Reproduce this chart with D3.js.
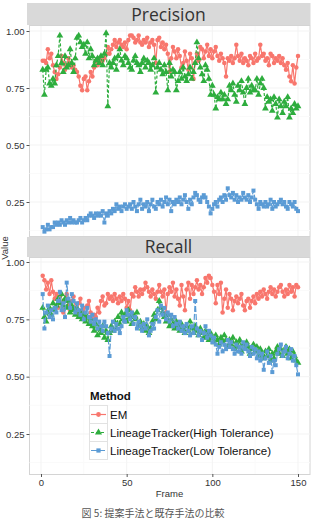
<!DOCTYPE html>
<html>
<head>
<meta charset="utf-8">
<script src="https://cdn.jsdelivr.net/npm/d3@7"></script>
<style>
  body { margin: 0; background: #fff; }
  svg { display: block; }
</style>
</head>
<body>
<svg id="chart" width="314" height="521"></svg>
<script>
// frame numbers
var frames = d3.range(1, 151);

var yTicks = [0.25, 0.5, 0.75, 1.0];
var xTicks = [0, 50, 100, 150];
var methods = ["EM", "LineageTracker(High Tolerance)", "LineageTracker(Low Tolerance)"];

var precisionEM = [
  0.87, 0.87, 0.86, 0.92, 0.88, 0.90, 0.85, 0.82, 0.79, 0.81,
  0.84, 0.89, 0.86, 0.83, 0.85, 0.88, 0.86, 0.84, 0.85, 0.83,
  0.82, 0.80, 0.76, 0.74, 0.79, 0.80, 0.74, 0.78, 0.82, 0.80,
  0.84, 0.87, 0.85, 0.88, 0.86, 0.87, 0.88, 0.90, 0.93, 0.90,
  0.92, 0.94, 0.96, 0.93, 0.95, 0.96, 0.94, 0.93, 0.95, 0.92,
  0.96, 0.98, 0.98, 0.97, 0.95, 0.96, 0.98, 0.95, 0.94, 0.96,
  0.95, 0.97, 0.93, 0.95, 0.96, 0.94, 0.86, 0.96, 0.97, 0.93,
  0.95, 0.92, 0.94, 0.90, 0.82, 0.88, 0.93, 0.91, 0.88, 0.92,
  0.89, 0.84, 0.86, 0.91, 0.87, 0.83, 0.90, 0.88, 0.79, 0.86,
  0.90, 0.87, 0.93, 0.92, 0.88, 0.91, 0.94, 0.89, 0.92, 0.88,
  0.91, 0.93, 0.89, 0.87, 0.90, 0.88, 0.86, 0.80, 0.88, 0.87,
  0.89, 0.86, 0.88, 0.94, 0.89, 0.87, 0.90, 0.86, 0.88, 0.87,
  0.85, 0.89, 0.88, 0.86, 0.90, 0.87, 0.88, 0.94, 0.89, 0.90,
  0.87, 0.88, 0.85, 0.90, 0.89, 0.86, 0.88, 0.87, 0.89, 0.86,
  0.88, 0.85, 0.83, 0.86, 0.80, 0.78, 0.85, 0.77, 0.84, 0.89
];
var precisionHigh = [
  0.83, 0.72, 0.83, 0.84, 0.77, 0.76, 0.79, 0.77, 0.85, 0.89,
  0.98, 0.86, 0.82, 0.89, 0.84, 0.85, 0.92, 0.86, 0.82, 0.88,
  0.97, 0.98, 0.95, 0.93, 0.94, 0.90, 0.95, 0.88, 0.92, 0.89,
  0.85, 0.87, 0.88, 0.86, 0.89, 0.85, 0.90, 0.99, 0.67, 0.86,
  0.84, 0.86, 0.88, 0.83, 0.89, 0.92, 0.87, 0.85, 0.89, 0.88,
  0.86, 0.84, 0.83, 0.87, 0.89, 0.86, 0.85, 0.82, 0.86, 0.88,
  0.84, 0.87, 0.86, 0.83, 0.85, 0.88, 0.73, 0.84, 0.86, 0.83,
  0.81, 0.85, 0.82, 0.74, 0.86, 0.80, 0.83, 0.82, 0.74, 0.78,
  0.82, 0.79, 0.84, 0.80, 0.78, 0.81, 0.84, 0.79, 0.82, 0.86,
  0.95, 0.88, 0.84, 0.81, 0.78, 0.85, 0.83, 0.79, 0.72, 0.76,
  0.72, 0.66, 0.71, 0.70, 0.73, 0.70, 0.72, 0.68, 0.70, 0.76,
  0.74, 0.77, 0.72, 0.69, 0.76, 0.74, 0.78, 0.73, 0.68, 0.75,
  0.79, 0.73, 0.76, 0.74, 0.74, 0.79, 0.72, 0.77, 0.79, 0.75,
  0.66, 0.71, 0.69, 0.70, 0.65, 0.71, 0.68, 0.62, 0.70, 0.67,
  0.64, 0.69, 0.67, 0.71, 0.62, 0.66, 0.64, 0.68, 0.66, 0.67
];
var precisionLow = [
  0.14, 0.12, 0.13, 0.15, 0.13, 0.14, 0.14, 0.16, 0.15, 0.16,
  0.15, 0.17, 0.16, 0.15, 0.17, 0.16, 0.18, 0.16, 0.17, 0.16,
  0.16, 0.17, 0.18, 0.16, 0.17, 0.18, 0.17, 0.19, 0.20, 0.19,
  0.18, 0.20, 0.19, 0.20, 0.19, 0.21, 0.16, 0.20, 0.19, 0.21,
  0.20, 0.22, 0.21, 0.24, 0.22, 0.23, 0.21, 0.23, 0.24, 0.22,
  0.23, 0.24, 0.22, 0.25, 0.23, 0.21, 0.24, 0.26, 0.22, 0.24,
  0.23, 0.25, 0.21, 0.24, 0.26, 0.23, 0.22, 0.25, 0.24, 0.26,
  0.23, 0.25, 0.27, 0.24, 0.26, 0.21, 0.25, 0.24, 0.26, 0.25,
  0.27, 0.24, 0.26, 0.28, 0.25, 0.22, 0.26, 0.24, 0.27, 0.29,
  0.28, 0.26, 0.25, 0.27, 0.28, 0.27, 0.25, 0.23, 0.20, 0.22,
  0.24, 0.25, 0.23, 0.26, 0.27, 0.25, 0.28, 0.26, 0.31, 0.28,
  0.27, 0.29, 0.26, 0.28, 0.25, 0.27, 0.26, 0.29, 0.27, 0.26,
  0.28, 0.25, 0.27, 0.30, 0.26, 0.24, 0.22, 0.25, 0.24, 0.23,
  0.25, 0.23, 0.24, 0.26, 0.22, 0.25, 0.23, 0.24, 0.25, 0.26,
  0.24, 0.25, 0.23, 0.22, 0.25, 0.24, 0.23, 0.25, 0.22, 0.21
];
var recallEM = [
  0.94, 0.92, 0.88, 0.91, 0.86, 0.92, 0.87, 0.84, 0.86, 0.80,
  0.85, 0.82, 0.78, 0.83, 0.86, 0.81, 0.79, 0.83, 0.85, 0.80,
  0.78, 0.82, 0.84, 0.79, 0.80, 0.76, 0.81, 0.83, 0.78, 0.75,
  0.77, 0.76, 0.80, 0.78, 0.83, 0.85, 0.81, 0.82, 0.86, 0.84,
  0.85, 0.83, 0.86, 0.84, 0.82, 0.85, 0.83, 0.86, 0.84, 0.80,
  0.83, 0.79, 0.86, 0.85, 0.89, 0.87, 0.85, 0.88, 0.86, 0.88,
  0.91, 0.89, 0.87, 0.85, 0.88, 0.86, 0.84, 0.87, 0.90, 0.87,
  0.85, 0.88, 0.78, 0.86, 0.89, 0.87, 0.91, 0.85, 0.88, 0.84,
  0.81, 0.90, 0.85, 0.79, 0.88, 0.91, 0.84, 0.90, 0.86, 0.89,
  0.92, 0.88, 0.90, 0.86, 0.89, 0.93, 0.91, 0.94, 0.93, 0.90,
  0.87, 0.82, 0.90, 0.86, 0.91, 0.78, 0.84, 0.88, 0.80, 0.86,
  0.84, 0.79, 0.83, 0.85, 0.82, 0.84, 0.86, 0.81, 0.79, 0.83,
  0.84, 0.80, 0.83, 0.85, 0.82, 0.86, 0.84, 0.87, 0.85, 0.88,
  0.86, 0.84, 0.87, 0.89, 0.86, 0.88, 0.85, 0.87, 0.89, 0.90,
  0.87, 0.85, 0.88, 0.86, 0.90, 0.87, 0.89, 0.85, 0.90, 0.89
];
var recallHigh = [
  0.80, 0.76, 0.74, 0.78, 0.80, 0.77, 0.82, 0.79, 0.81, 0.84,
  0.82, 0.86, 0.81, 0.84, 0.80, 0.83, 0.78, 0.81, 0.79, 0.77,
  0.80, 0.76, 0.78, 0.75, 0.77, 0.74, 0.76, 0.73, 0.75, 0.72,
  0.70, 0.73, 0.68, 0.71, 0.69, 0.72, 0.67, 0.70, 0.66, 0.69,
  0.72, 0.70, 0.74, 0.71, 0.76, 0.73, 0.78, 0.75, 0.77, 0.74,
  0.79, 0.76, 0.73, 0.77, 0.75, 0.78, 0.72, 0.74, 0.71, 0.73,
  0.70, 0.72, 0.69, 0.71, 0.74, 0.77, 0.75, 0.79, 0.83, 0.80,
  0.78, 0.76, 0.74, 0.77, 0.72, 0.75, 0.73, 0.71, 0.74, 0.72,
  0.70, 0.73, 0.71, 0.69, 0.72, 0.70, 0.74, 0.71, 0.69, 0.72,
  0.70, 0.68, 0.71, 0.69, 0.67, 0.70, 0.68, 0.66, 0.69, 0.67,
  0.65, 0.68, 0.66, 0.64, 0.67, 0.65, 0.68, 0.66, 0.63, 0.66,
  0.64, 0.67, 0.62, 0.65, 0.63, 0.66, 0.61, 0.64, 0.62, 0.65,
  0.63, 0.60, 0.62, 0.64, 0.61, 0.63, 0.59, 0.62, 0.60, 0.58,
  0.61, 0.59, 0.62, 0.57, 0.60, 0.58, 0.61, 0.63, 0.60, 0.62,
  0.59, 0.61, 0.63, 0.60, 0.62, 0.58, 0.61, 0.59, 0.57, 0.56
];
var recallLow = [
  0.86, 0.71, 0.78, 0.81, 0.76, 0.79, 0.75, 0.80, 0.78, 0.83,
  0.87, 0.79, 0.82, 0.76, 0.91, 0.84, 0.80, 0.86, 0.83, 0.78,
  0.82, 0.79, 0.77, 0.81, 0.75, 0.78, 0.80, 0.76, 0.74, 0.77,
  0.73, 0.75, 0.71, 0.74, 0.72, 0.70, 0.74, 0.72, 0.69, 0.59,
  0.71, 0.74, 0.70, 0.73, 0.71, 0.69, 0.72, 0.76, 0.74, 0.79,
  0.77, 0.75, 0.78, 0.73, 0.76, 0.71, 0.74, 0.72, 0.70, 0.73,
  0.71, 0.75, 0.68, 0.70, 0.73, 0.71, 0.76, 0.79, 0.74, 0.81,
  0.77, 0.80, 0.75, 0.78, 0.74, 0.77, 0.72, 0.76, 0.73, 0.71,
  0.74, 0.70, 0.72, 0.69, 0.73, 0.70, 0.68, 0.72, 0.69, 0.83,
  0.71, 0.68, 0.70, 0.66, 0.69, 0.72, 0.67, 0.70, 0.68, 0.65,
  0.67, 0.64, 0.60, 0.63, 0.65, 0.61, 0.64, 0.62, 0.66, 0.63,
  0.65, 0.62, 0.60, 0.64, 0.61, 0.63, 0.60, 0.65, 0.62, 0.64,
  0.61, 0.59, 0.63, 0.60, 0.62, 0.58, 0.61, 0.57, 0.60, 0.53,
  0.58, 0.61, 0.56, 0.59, 0.52, 0.57, 0.55, 0.60, 0.62, 0.64,
  0.59, 0.61, 0.63, 0.58, 0.60, 0.62, 0.57, 0.59, 0.55, 0.51
];

var colors = ["#F8766D", "#2EAD3E", "#5B9BD5"];
var dashes = [null, "3,2", "6,2"];
var shapes = [d3.symbolCircle, d3.symbolTriangle, d3.symbolSquare];

var svg = d3.select("#chart");
var font = "'Liberation Sans', Arial, sans-serif";

var x = d3.scaleLinear().domain([0, 150]).range([41, 298]);
var left = 29.5, right = 310;

var panels = [
  { title: "Precision", stripTop: 3, top: 25, bottom: 236,
    y: d3.scaleLinear().domain([0.25, 1]).range([202, 31]),
    series: [precisionEM, precisionHigh, precisionLow] },
  { title: "Recall", stripTop: 237, top: 257, bottom: 474,
    y: d3.scaleLinear().domain([0.25, 1]).range([434, 262]),
    series: [recallEM, recallHigh, recallLow] }
];

panels.forEach(function (p, pi) {
  var g = svg.append("g");

  // strip
  g.append("rect").attr("x", 27).attr("y", p.stripTop)
    .attr("width", right - 27 + 0.5).attr("height", p.top - p.stripTop)
    .attr("fill", "#d9d9d9");
  g.append("text").attr("x", (27 + right) / 2).attr("y", p.top - 4.5)
    .attr("text-anchor", "middle").attr("font-family", "'Open Sans', sans-serif")
    .attr("font-size", 17.5).attr("fill", "#333").text(p.title);

  // panel bg + grid
  g.append("rect").attr("x", left).attr("y", p.top + 0.5)
    .attr("width", right - left).attr("height", p.bottom - p.top)
    .attr("fill", "#fff").attr("stroke", "#d4d4d4").attr("stroke-width", 1);

  var minorY = [0.125, 0.375, 0.625, 0.875];
  var minorX = [25, 75, 125];
  g.selectAll(".gyM").data(minorY).enter().append("line")
    .attr("x1", left).attr("x2", right)
    .attr("y1", function (d) { return p.y(d); }).attr("y2", function (d) { return p.y(d); })
    .attr("stroke", "#fafafa");
  g.selectAll(".gxM").data(minorX).enter().append("line")
    .attr("y1", p.top + 1).attr("y2", p.bottom)
    .attr("x1", function (d) { return x(d); }).attr("x2", function (d) { return x(d); })
    .attr("stroke", "#fafafa");
  g.selectAll(".gy").data(yTicks).enter().append("line")
    .attr("x1", left).attr("x2", right)
    .attr("y1", function (d) { return p.y(d); }).attr("y2", function (d) { return p.y(d); })
    .attr("stroke", "#f3f3f3");
  g.selectAll(".gx").data(xTicks).enter().append("line")
    .attr("y1", p.top + 1).attr("y2", p.bottom)
    .attr("x1", function (d) { return x(d); }).attr("x2", function (d) { return x(d); })
    .attr("stroke", "#f3f3f3");

  // y axis
  var ya = g.append("g").attr("transform", "translate(" + left + ",0)")
    .call(d3.axisLeft(p.y).tickValues(yTicks).tickFormat(d3.format(".2f")).tickSize(3).tickPadding(2));
  ya.select(".domain").remove();
  ya.selectAll("line").attr("stroke", "#555");
  ya.selectAll("text").attr("font-family", font).attr("font-size", 9.5).attr("fill", "#333");

  // series
  p.series.forEach(function (vals, si) {
    var pts = frames.map(function (f, i) { return [f, vals[i]]; });
    var line = d3.line().x(function (d) { return x(d[0]); }).y(function (d) { return p.y(d[1]); });
    g.append("path").datum(pts).attr("d", line)
      .attr("fill", "none").attr("stroke", colors[si]).attr("stroke-width", 1.2)
      .attr("stroke-dasharray", dashes[si]);
    var sym = d3.symbol().type(shapes[si]).size(si == 1 ? 20 : 16);
    g.selectAll(".pt" + si).data(pts).enter().append("path")
      .attr("d", sym)
      .attr("transform", function (d) { return "translate(" + x(d[0]) + "," + p.y(d[1]) + ")"; })
      .attr("fill", colors[si]);
  });

  if (pi == 1) {
    var xa = g.append("g").attr("transform", "translate(0," + p.bottom + ")")
      .call(d3.axisBottom(x).tickValues(xTicks).tickSize(3).tickPadding(2));
    xa.select(".domain").remove();
    xa.selectAll("line").attr("stroke", "#555");
    xa.selectAll("text").attr("font-family", font).attr("font-size", 9.5).attr("fill", "#333");

    // legend
    var lg = g.append("g").attr("transform", "translate(89,387)");
    lg.append("text").attr("x", 1).attr("y", 13).attr("font-family", font)
      .attr("font-size", 11.5).attr("font-weight", "bold").attr("fill", "#111").text("Method");
    methods.forEach(function (m, mi) {
      var ky = 18 + mi * 18;
      lg.append("rect").attr("x", 0.5).attr("y", ky + 0.5).attr("width", 18).attr("height", 18)
        .attr("fill", "#fff").attr("stroke", "#e2e2e2");
      lg.append("line").attr("x1", 2).attr("x2", 17).attr("y1", ky + 9.5).attr("y2", ky + 9.5)
        .attr("stroke", colors[mi]).attr("stroke-width", 1.2).attr("stroke-dasharray", dashes[mi]);
      lg.append("path").attr("d", d3.symbol().type(shapes[mi]).size(mi == 1 ? 22 : 18))
        .attr("transform", "translate(9.5," + (ky + 9.5) + ")").attr("fill", colors[mi]);
      lg.append("text").attr("x", 21).attr("y", ky + 13.5).attr("font-family", font)
        .attr("font-size", 11.5).attr("fill", "#111").text(m);
    });
  }
});

// axis titles
svg.append("text").attr("x", (27 + right) / 2 + 1).attr("y", 497).attr("text-anchor", "middle")
  .attr("font-family", font).attr("font-size", 9.5).attr("fill", "#333").text("Frame");
svg.append("text").attr("transform", "translate(8,248) rotate(-90)").attr("text-anchor", "middle")
  .attr("font-family", font).attr("font-size", 9.5).attr("fill", "#333").text("Value");

// caption
svg.append("text").attr("x", 153).attr("y", 517).attr("text-anchor", "middle")
  .attr("font-family", "'Noto Sans CJK JP', sans-serif").attr("font-size", 10).attr("fill", "#555")
  .text("図 5: 提案手法と既存手法の比較");
</script>
</body>
</html>
